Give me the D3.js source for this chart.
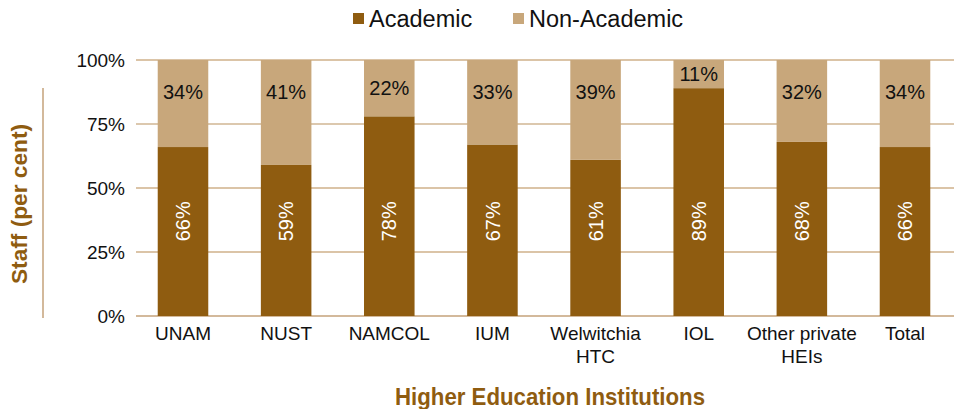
<!DOCTYPE html>
<html><head><meta charset="utf-8">
<script src="https://cdn.jsdelivr.net/npm/d3@7"></script>
<style>body{margin:0;background:#fff}svg{display:block}</style>
</head><body>
<script>
const categories = [["UNAM"],["NUST"],["NAMCOL"],["IUM"],["Welwitchia","HTC"],["IOL"],["Other private","HEIs"],["Total"]];
const academic = [66, 59, 78, 67, 61, 89, 68, 66];
const nonAcademic = [34, 41, 22, 33, 39, 11, 32, 34];
const yTicks = [0, 25, 50, 75, 100];
const seriesNames = ["Academic", "Non-Academic"];
const colors = ["#8F5C10", "#C8A77B"];

const W = 954, H = 409;
const svg = d3.select("body").append("svg").attr("width", W).attr("height", H);
const keys = categories.map(c => c.join(" "));
const x = d3.scaleBand().domain(keys).range([134, 954]).paddingInner(0.51).paddingOuter(0.23);
const y = d3.scaleLinear().domain([0, 100]).range([316, 60]);
const font = "'Liberation Sans', Arial, sans-serif";

// gridlines
svg.append("g").selectAll("line").data(yTicks).join("line")
  .attr("x1", 136).attr("x2", W)
  .attr("y1", d => y(d)).attr("y2", d => y(d))
  .attr("stroke", d => d === 0 ? "#C4A27A" : (d === 75 ? "#DCC8AE" : "#CFB08A"))
  .attr("stroke-width", d => d === 75 ? 2 : 1.5);

// y tick labels
svg.append("g").selectAll("text").data(yTicks).join("text")
  .attr("x", 125).attr("y", d => y(d)).attr("dy", "0.36em")
  .attr("text-anchor", "end").attr("font-family", font).attr("font-size", 19).attr("fill", "#111")
  .text(d => d + "%");

const data = keys.map((k, i) => ({k, a: academic[i], n: nonAcademic[i], lines: categories[i]}));

const g = svg.append("g");
g.selectAll("rect.a").data(data).join("rect").attr("class", "a")
  .attr("x", d => x(d.k)).attr("width", x.bandwidth())
  .attr("y", d => y(d.a)).attr("height", d => y(0) - y(d.a)).attr("fill", colors[0]);
g.selectAll("rect.n").data(data).join("rect").attr("class", "n")
  .attr("x", d => x(d.k)).attr("width", x.bandwidth())
  .attr("y", d => y(d.a + d.n)).attr("height", d => y(d.a) - y(d.a + d.n)).attr("fill", colors[1]);

// academic labels (rotated, white)
g.selectAll("text.a").data(data).join("text").attr("class", "a")
  .attr("transform", d => `translate(${x(d.k) + x.bandwidth() / 2},${y(37)}) rotate(-90)`)
  .attr("text-anchor", "middle").attr("dy", "0.36em")
  .attr("font-family", font).attr("font-size", 20).attr("fill", "#fff")
  .text(d => d.a + "%");

// non-academic labels
g.selectAll("text.n").data(data).join("text").attr("class", "n")
  .attr("x", d => x(d.k) + x.bandwidth() / 2)
  .attr("y", d => Math.min((y(d.a) + y(d.a + d.n)) / 2, y(87.5)))
  .attr("dy", "0.36em").attr("text-anchor", "middle")
  .attr("font-family", font).attr("font-size", 20).attr("fill", "#111")
  .text(d => d.n + "%");

// x labels
const xl = svg.append("g").selectAll("text").data(data).join("text")
  .attr("x", d => x(d.k) + x.bandwidth() / 2).attr("y", 340)
  .attr("text-anchor", "middle").attr("font-family", font).attr("font-size", 19).attr("fill", "#111");
xl.selectAll("tspan").data(d => d.lines.map(l => ({l, x: x(d.k) + x.bandwidth() / 2}))).join("tspan")
  .attr("x", t => t.x).attr("dy", (t, i) => i === 0 ? 0 : 23).text(t => t.l);

// axis titles
svg.append("text").attr("transform", `translate(27,204) rotate(-90)`)
  .attr("text-anchor", "middle").attr("font-family", font).attr("font-weight", "bold")
  .attr("font-size", 22).attr("textLength", 160).attr("lengthAdjust", "spacingAndGlyphs")
  .attr("fill", "#8F5C10").text("Staff (per cent)");
svg.append("line").attr("x1", 43).attr("x2", 43).attr("y1", 88).attr("y2", 318)
  .attr("stroke", "#C4A27A").attr("stroke-width", 1.5);
svg.append("text").attr("x", 550).attr("y", 405)
  .attr("text-anchor", "middle").attr("font-family", font)
  .attr("font-weight", "bold").attr("font-size", 24)
  .attr("textLength", 310).attr("lengthAdjust", "spacingAndGlyphs")
  .attr("fill", "#8F5C10").text("Higher Education Institutions");

// legend
const legX = [353, 513];
const lg = svg.append("g").selectAll("g").data(seriesNames).join("g")
  .attr("transform", (d, i) => `translate(${legX[i]},0)`);
lg.append("rect").attr("x", 0).attr("y", 13).attr("width", 11).attr("height", 11).attr("fill", (d, i) => colors[i]);
lg.append("text").attr("x", 16).attr("y", 27).attr("font-family", font).attr("font-size", 23.5)
  .attr("fill", "#111").text(d => d);
</script>
</body></html>
